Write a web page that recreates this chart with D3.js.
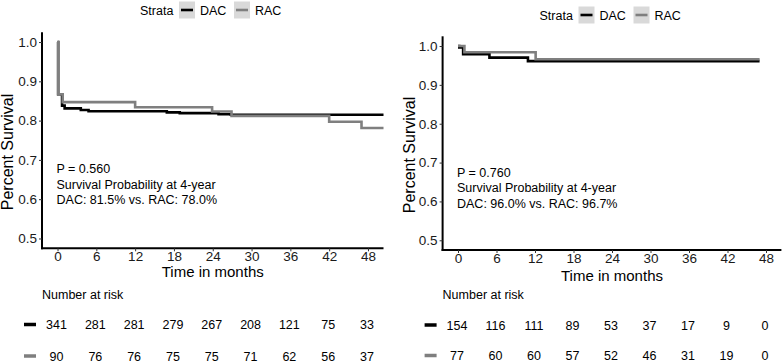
<!DOCTYPE html>
<html lang="en">
<head>
  <meta charset="UTF-8">
  <title>Kaplan-Meier DAC vs RAC</title>
  <style>
    body { margin: 0; background: #fff; }
    svg { display: block; font-family: "Liberation Sans", Arial, sans-serif; }
    .tick-label { font-size: 13.5px; fill: #1a1a1a; }
    .axis-title { font-size: 15px; fill: #000; }
    .note { font-size: 12.5px; fill: #000; }
    .legend text { font-size: 12.5px; fill: #000; }
    .risk text { font-size: 12.5px; fill: #000; }
  </style>
</head>
<body>
  <svg id="chart" width="783" height="362"></svg>
  <script src="https://d3js.org/d3.v7.min.js"></script>
  <script>
    // tick labels
    const timeTicks = [0, 6, 12, 18, 24, 30, 36, 42, 48]
    const survTicks = [0.5, 0.6, 0.7, 0.8, 0.9, 1.0]
    const strata = ['DAC', 'RAC']

    // left panel – step curves
    const leftDacTime = [0, 0.1, 0.7, 1.1, 3.6, 4.8, 16.9, 18.9, 24.9, 26.8, 52]
    const leftDacSurv = [1.0, 0.867, 0.838, 0.831, 0.827, 0.824, 0.821, 0.819, 0.816, 0.815, 0.815]
    const leftRacTime = [0, 0.1, 0.8, 12.0, 23.9, 26.9, 42.0, 47.0, 52]
    const leftRacSurv = [1.0, 0.867, 0.847, 0.834, 0.823, 0.812, 0.797, 0.781, 0.781]
    const leftRiskDac = [341, 281, 281, 279, 267, 208, 121, 75, 33]
    const leftRiskRac = [90, 76, 76, 75, 75, 71, 62, 56, 37]
    const leftNote = ['P = 0.560', 'Survival Probability at 4-year', 'DAC: 81.5% vs. RAC: 78.0%']

    // right panel
    const rightDacTime = [0, 0.2, 0.8, 4.9, 10.9, 47.0]
    const rightDacSurv = [1.0, 0.996, 0.979, 0.970, 0.961, 0.961]
    const rightRacTime = [0, 1.0, 12.1, 47.0]
    const rightRacSurv = [1.0, 0.984, 0.966, 0.966]
    const rightRiskDac = [154, 116, 111, 89, 53, 37, 17, 9, 0]
    const rightRiskRac = [77, 60, 60, 57, 52, 46, 31, 19, 0]
    const rightNote = ['P = 0.760', 'Survival Probability at 4-year', 'DAC: 96.0% vs. RAC: 96.7%']

    const colors = { DAC: '#000000', RAC: '#7f7f7f' }

    const svg = d3.select('#chart')

    function drawPanel(id, o) {
      const g = svg.append('g')

      const x = d3.scaleLinear().domain([-2.4, 50.4]).range([o.left, o.right])
      const y = d3.scaleLinear().domain([0.475, 1.025]).range([o.bottom, o.top])

      g.append('clipPath').attr('id', 'clip-' + id)
        .append('rect')
        .attr('x', o.left).attr('y', o.top - 4)
        .attr('width', o.right - o.left).attr('height', o.bottom - o.top + 4)

      // curves
      const line = d3.line()
        .x(d => x(d[0]))
        .y(d => y(d[1]))
        .curve(d3.curveStepAfter)

      o.curves.forEach(c => {
        g.append('path')
          .attr('clip-path', `url(#clip-${id})`)
          .attr('d', line(d3.zip(c.time, c.surv)))
          .attr('fill', 'none')
          .attr('stroke', colors[c.name])
          .attr('stroke-width', 2.6)
      })

      // axes
      const yAxis = g.append('g')
        .attr('transform', `translate(${o.left},0)`)
        .call(d3.axisLeft(y).tickValues(survTicks).tickFormat(d3.format('.1f')).tickSize(3).tickPadding(2))
      const xAxis = g.append('g')
        .attr('transform', `translate(0,${o.bottom})`)
        .call(d3.axisBottom(x).tickValues(timeTicks).tickSize(3).tickPadding(0))
      ;[xAxis, yAxis].forEach(a => {
        a.select('.domain').attr('stroke', '#000').attr('stroke-width', 2)
        a.selectAll('.tick line').attr('stroke', '#333')
        a.selectAll('.tick text').attr('class', 'tick-label').attr('font-size', null).attr('font-family', null)
      })
      xAxis.select('.domain').attr('d', `M${o.left - 1},0H${o.right}`)
      yAxis.select('.domain').attr('d', `M0,${o.top}V${o.bottom + 1}`)

      g.append('text').attr('class', 'axis-title')
        .attr('x', (o.left + o.right) / 2).attr('y', o.bottom + o.xTitleDy)
        .attr('text-anchor', 'middle')
        .text('Time in months')

      g.append('text').attr('class', 'axis-title')
        .attr('transform', `translate(${o.yTitleX},${o.yTitleY}) rotate(-90)`)
        .attr('text-anchor', 'middle')
        .style('font-size', '16px')
        .text('Percent Survival')

      // annotation
      g.append('g').selectAll('text')
        .data(o.note)
        .join('text')
        .attr('class', 'note')
        .attr('x', x(0) - 1)
        .attr('y', (d, i) => o.noteY + i * 15.6)
        .text(d => d)

      // legend
      const lg = g.append('g').attr('class', 'legend')
        .attr('transform', `translate(${o.legendX},${o.legendY})`)
      lg.append('text').attr('x', 0).attr('y', 4.5).text('Strata')
      strata.forEach((s, i) => {
        const kx = 39 + i * 55
        lg.append('rect').attr('x', kx).attr('y', -8.5).attr('width', 16).attr('height', 17).attr('fill', '#d9d9d9')
        lg.append('line').attr('x1', kx + 2).attr('x2', kx + 14).attr('y1', 0).attr('y2', 0)
          .attr('stroke', colors[s]).attr('stroke-width', 2.6)
        lg.append('text').attr('x', kx + 21).attr('y', 4.5).text(s)
      })

      // risk table
      const rt = g.append('g').attr('class', 'risk')
      rt.append('text').attr('x', o.left).attr('y', o.riskTitleY).text('Number at risk')
      const rows = [{ name: 'DAC', vals: o.riskDac }, { name: 'RAC', vals: o.riskRac }]
      rows.forEach((r, i) => {
        const ry = o.riskRowY[i]
        rt.append('line')
          .attr('x1', o.left - 18).attr('x2', o.left - 6)
          .attr('y1', ry).attr('y2', ry)
          .attr('stroke', colors[r.name]).attr('stroke-width', 3.5)
        rt.selectAll(null)
          .data(r.vals)
          .join('text')
          .attr('x', (d, j) => x(timeTicks[j]) - 1)
          .attr('y', ry + 4.5)
          .attr('text-anchor', 'middle')
          .text(d => d)
      })
    }

    drawPanel('left', {
      left: 42, right: 383.5, top: 32.2, bottom: 248.3,
      curves: [
        { name: 'DAC', time: leftDacTime, surv: leftDacSurv },
        { name: 'RAC', time: leftRacTime, surv: leftRacSurv }
      ],
      note: leftNote, noteY: 173,
      xTitleDy: 29, yTitleX: 13, yTitleY: 152,
      legendX: 140, legendY: 10,
      riskTitleY: 299, riskRowY: [324.5, 356],
      riskDac: leftRiskDac, riskRac: leftRiskRac
    })

    drawPanel('right', {
      left: 442.6, right: 781.4, top: 36.3, bottom: 250,
      curves: [
        { name: 'DAC', time: rightDacTime, surv: rightDacSurv },
        { name: 'RAC', time: rightRacTime, surv: rightRacSurv }
      ],
      note: rightNote, noteY: 176.5,
      xTitleDy: 30.5, yTitleX: 415, yTitleY: 155,
      legendX: 539.5, legendY: 15,
      riskTitleY: 299, riskRowY: [325, 355.5],
      riskDac: rightRiskDac, riskRac: rightRiskRac
    })
  </script>
</body>
</html>
